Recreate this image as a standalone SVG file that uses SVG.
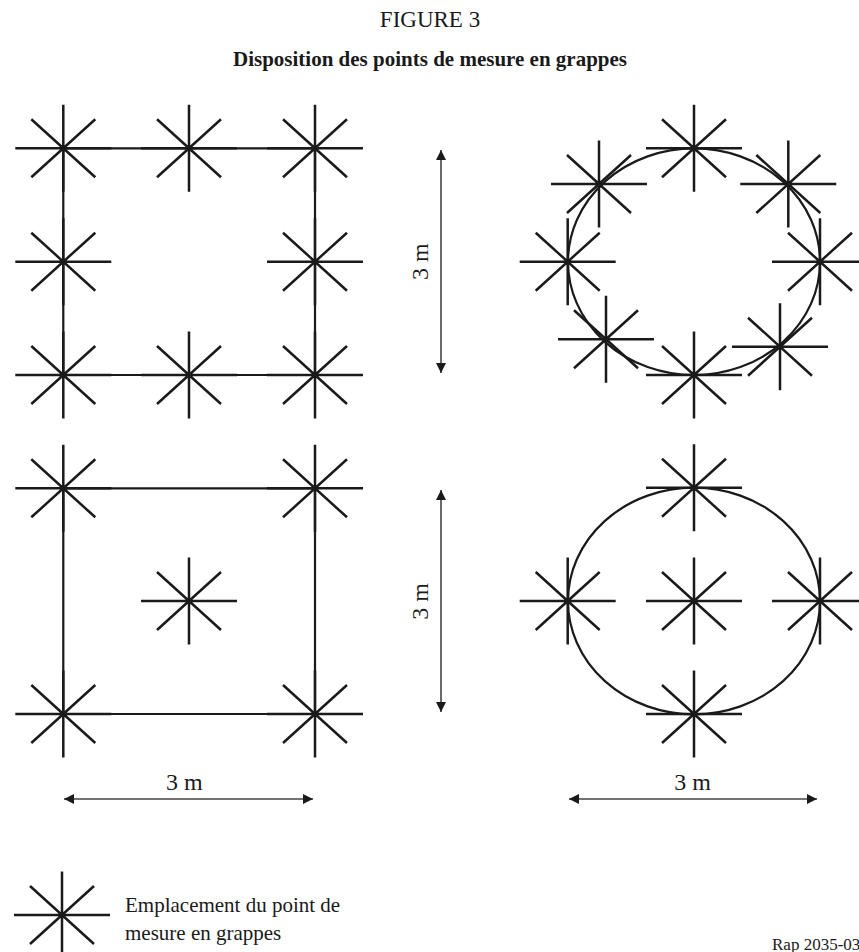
<svg xmlns="http://www.w3.org/2000/svg" xmlns:xlink="http://www.w3.org/1999/xlink" width="859" height="952" viewBox="0 0 859 952">
<style>
.st{stroke:#1a1a1a;stroke-width:2.5;fill:none;stroke-linecap:butt}
.edge{stroke:#1a1a1a;stroke-width:2.2;fill:none}
.dim{stroke:#444;stroke-width:1.6;fill:none}
.t{font-family:"Liberation Serif","Times New Roman",serif;fill:#1a1a1a}
</style>
<defs>
<g id="star"><path class="st" d="M0,-43.5V43.5M-48,0H48M-32,-29L32,29M-32,29L32,-29"/></g>
<marker id="ah" viewBox="0 0 10 10" refX="10" refY="5" markerWidth="11" markerHeight="10" markerUnits="userSpaceOnUse" orient="auto-start-reverse"><path d="M0,0L10,5L0,10z" fill="#1a1a1a"/></marker>
</defs>
<rect width="859" height="952" fill="#fff"/>
<text class="t" x="430" y="27" font-size="23" text-anchor="middle">FIGURE 3</text>
<text class="t" x="430" y="66" font-size="21" font-weight="bold" text-anchor="middle">Disposition des points de mesure en grappes</text>
<g id="connectors">
<path class="edge" d="M63.3,148.3H315V375H63.3Z"/>
<ellipse class="edge" cx="694" cy="261.7" rx="126" ry="113.3"/>
<path class="edge" d="M63.3,488.3H315V714H63.3Z"/>
<ellipse class="edge" cx="694" cy="601" rx="126" ry="113.3"/>
<line class="dim" x1="441" y1="150" x2="441" y2="373" marker-start="url(#ah)" marker-end="url(#ah)"/>
<line class="dim" x1="441" y1="490" x2="441" y2="712" marker-start="url(#ah)" marker-end="url(#ah)"/>
<line class="dim" x1="64" y1="799" x2="313" y2="799" marker-start="url(#ah)" marker-end="url(#ah)"/>
<line class="dim" x1="569" y1="799" x2="817" y2="799" marker-start="url(#ah)" marker-end="url(#ah)"/>
</g>
<g id="labels">
<text class="t" font-size="24" text-anchor="middle" transform="translate(428,261.7) rotate(-90)">3 m</text>
<text class="t" font-size="24" text-anchor="middle" transform="translate(428,601.5) rotate(-90)">3 m</text>
<text class="t" x="184.3" y="790" font-size="24" text-anchor="middle">3 m</text>
<text class="t" x="692.7" y="790" font-size="24" text-anchor="middle">3 m</text>
</g>
<g id="sq1">
<use id="sq1-1" xlink:href="#star" x="63.3" y="148.3"/>
<use id="sq1-2" xlink:href="#star" x="189" y="148.3"/>
<use id="sq1-3" xlink:href="#star" x="315" y="148.3"/>
<use id="sq1-4" xlink:href="#star" x="63.3" y="261.7"/>
<use id="sq1-5" xlink:href="#star" x="315" y="261.7"/>
<use id="sq1-6" xlink:href="#star" x="63.3" y="375"/>
<use id="sq1-7" xlink:href="#star" x="189" y="375"/>
<use id="sq1-8" xlink:href="#star" x="315" y="375"/>
</g>
<g id="ci1">
<use id="ci1-1" xlink:href="#star" x="694" y="148.3"/>
<use id="ci1-2" xlink:href="#star" x="788.3" y="184"/>
<use id="ci1-3" xlink:href="#star" x="820" y="261.7"/>
<use id="ci1-4" xlink:href="#star" x="780" y="346.7"/>
<use id="ci1-5" xlink:href="#star" x="694" y="375"/>
<use id="ci1-6" xlink:href="#star" x="606" y="339.3"/>
<use id="ci1-7" xlink:href="#star" x="567.7" y="261.7"/>
<use id="ci1-8" xlink:href="#star" x="599" y="184"/>
</g>
<g id="sq2">
<use id="sq2-1" xlink:href="#star" x="63.3" y="488.3"/>
<use id="sq2-2" xlink:href="#star" x="315" y="488.3"/>
<use id="sq2-3" xlink:href="#star" x="189" y="601"/>
<use id="sq2-4" xlink:href="#star" x="63.3" y="714"/>
<use id="sq2-5" xlink:href="#star" x="315" y="714"/>
</g>
<g id="ci2">
<use id="ci2-1" xlink:href="#star" x="694" y="487.7"/>
<use id="ci2-2" xlink:href="#star" x="567.7" y="601"/>
<use id="ci2-3" xlink:href="#star" x="694" y="601"/>
<use id="ci2-4" xlink:href="#star" x="820" y="601"/>
<use id="ci2-5" xlink:href="#star" x="694" y="714"/>
</g>
<g id="legend">
<use xlink:href="#star" x="62" y="915"/>
<text class="t" x="125" y="912" font-size="21">Emplacement du point de</text>
<text class="t" x="125" y="940" font-size="21">mesure en grappes</text>
</g>
<text class="t" x="772" y="950" font-size="17">Rap 2035-03</text>
</svg>
